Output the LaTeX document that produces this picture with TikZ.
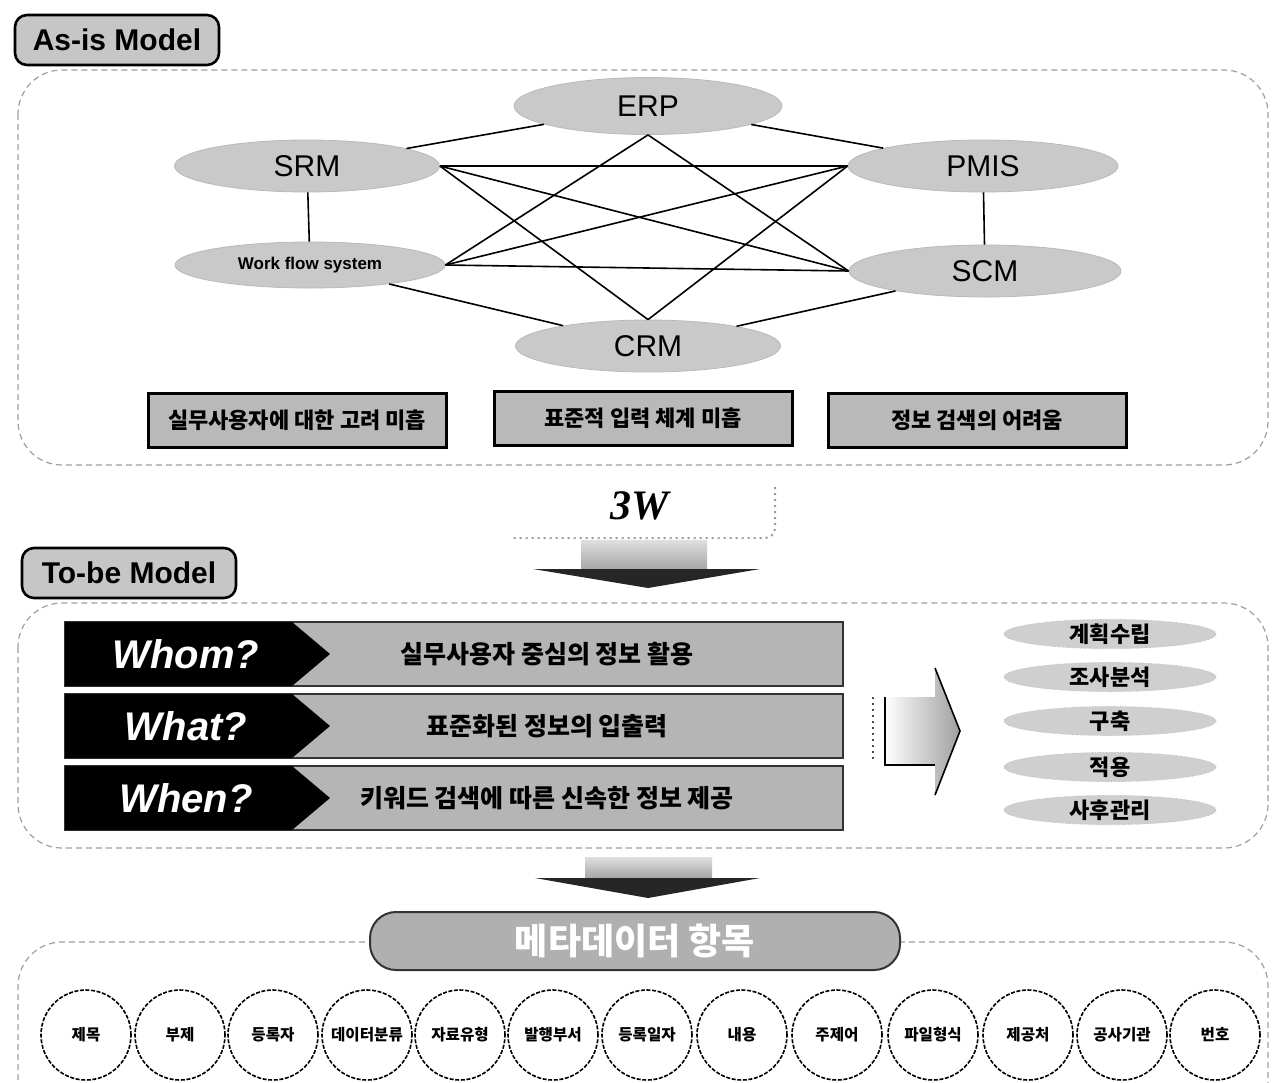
\documentclass[tikz,border=0pt]{standalone}
\usepackage{fontspec}
\setmainfont{Liberation Sans}
\newfontfamily\kr{Noto Sans CJK KR}
\newfontfamily\serifbi{Liberation Serif}
\usetikzlibrary{shapes.geometric}
\tikzset{
  region/.style={draw=gray!75, dash pattern=on 3pt off 2pt, line width=0.6pt, rounded corners=22pt},
  tagbox/.style={draw=black, line width=1.3pt, rounded corners=6pt, fill=gray!45,
     minimum width=102pt, minimum height=25pt, inner sep=0pt,
     font=\bfseries\fontsize{15}{15}\selectfont},
  sys/.style={ellipse, fill=gray!42, draw=gray!55, line width=0.4pt, inner sep=0pt,
     font=\fontsize{15}{15}\selectfont},
  link/.style={draw=black, line width=0.8pt},
  issue/.style={draw=black, line width=1.5pt, fill=gray!55, minimum width=149pt,
     minimum height=27pt, inner sep=0pt, font=\kr\bfseries\fontsize{11}{11}\selectfont},
  bar/.style={draw=black!80, line width=0.6pt, fill=gray!58, minimum width=389pt,
     minimum height=32pt, inner sep=0pt},
  qword/.style={text=white, font=\bfseries\itshape\fontsize{20}{20}\selectfont},
  bartext/.style={font=\kr\bfseries\fontsize{12.5}{12.5}\selectfont},
  phase/.style={ellipse, fill=gray!38, draw=gray!55, densely dotted, minimum width=106pt,
     minimum height=13.5pt, inner sep=0pt, font=\kr\bfseries\fontsize{11}{11}\selectfont},
  metaitem/.style={circle, draw=black, dash pattern=on 2pt off 0.8pt, line width=0.8pt,
     minimum size=45pt, inner sep=0pt, font=\kr\bfseries\fontsize{7.8}{7.8}\selectfont},
  banner/.style={draw=gray!40!black, line width=1pt, rounded corners=13pt, fill=gray!62,
     minimum width=265pt, minimum height=29pt, inner sep=0pt, text=white,
     font=\kr\bfseries\fontsize{18}{18}\selectfont},
}
\begin{document}
\begin{tikzpicture}[x=0.5pt,y=-0.5pt]
\useasboundingbox (0,0) rectangle (1273,1082);
\fill[white] (0,0) rectangle (1273,1082);

% ---------- As-is region ----------
\draw[region] (18,70) rectangle (1268,465);
\node[tagbox] (asis) at (117,40) {As-is Model};

\node[sys, minimum width=134pt, minimum height=28.5pt] (erp) at (648,106) {ERP};
\node[sys, minimum width=132.5pt, minimum height=26pt] (srm) at (307,166) {SRM};
\node[sys, minimum width=135pt, minimum height=26pt] (pmis) at (983,166) {PMIS};
\node[sys, minimum width=135pt, minimum height=23pt, font=\bfseries\fontsize{8.5}{8.5}\selectfont] (wf) at (310,265) {Work flow system};
\node[sys, minimum width=136pt, minimum height=26pt] (scm) at (985,271) {SCM};
\node[sys, minimum width=132.5pt, minimum height=26pt] (crm) at (648,346) {CRM};

\draw[link] (erp) -- (srm);
\draw[link] (erp) -- (pmis);
\draw[link] (srm) -- (wf);
\draw[link] (pmis) -- (scm);
\draw[link] (wf) -- (crm);
\draw[link] (scm) -- (crm);
\draw[link] (srm.east) -- (pmis.west);
\draw[link] (wf.east) -- (scm.west);
\draw[link] (srm.east) -- (scm.west);
\draw[link] (wf.east) -- (pmis.west);
\draw[link] (erp.south) -- (wf.east);
\draw[link] (erp.south) -- (scm.west);
\draw[link] (crm.north) -- (srm.east);
\draw[link] (crm.north) -- (pmis.west);

\node[issue] (i1) at (297,420) {실무사용자에 대한 고려 미흡};
\node[issue] (i2) at (643,418) {표준적 입력 체계 미흡};
\node[issue] (i3) at (977,420) {정보 검색의 어려움};

% ---------- 3W arrow ----------
\draw[gray!80, dotted, line width=1pt, rounded corners=5pt] (775,487) -- (775,538) -- (510,538);
\node[font=\serifbi\bfseries\itshape\fontsize{21}{21}\selectfont] (w3) at (640,506) {3W};
\shade[top color=gray!25, bottom color=gray!70] (581,540) rectangle (707,569);
\fill[gray!30!black] (533,569) -- (760,569) -- (648,588) -- cycle;

% ---------- To-be region ----------
\draw[region] (18,603) rectangle (1268,848);
\node[tagbox, minimum width=107pt] (tobe) at (129,573) {To-be Model};

\node[bar] (b1) at (454,654) {};
\node[bar] (b2) at (454,726) {};
\node[bar] (b3) at (454,798) {};
\foreach \yy in {654,726,798}{
  \fill[black] (65,\yy-32) -- (292,\yy-32) -- (330,\yy) -- (292,\yy+32) -- (65,\yy+32) -- cycle;
}
\node[qword] (q1) at (186,654) {Whom?};
\node[qword] (q2) at (186,726) {What?};
\node[qword] (q3) at (186,798) {When?};
\node[bartext] (t1) at (547,654) {실무사용자 중심의 정보 활용};
\node[bartext] (t2) at (547,726) {표준화된 정보의 입출력};
\node[bartext] (t3) at (547,798) {키워드 검색에 따른 신속한 정보 제공};

% right arrow
\draw[black!70, dotted, line width=1pt] (873,697) -- (873,762);
\shade[left color=white, right color=gray!75] (885,697) -- (935,697) -- (935,668) -- (960,731) -- (935,795) -- (935,765) -- (885,765) -- cycle;
\draw[black, line width=0.8pt] (885,697) -- (885,765) -- (935,765);
\draw[black, line width=0.8pt] (935,668) -- (960,731) -- (935,795);

\node[phase] (p1) at (1110,634) {계획수립};
\node[phase] (p2) at (1110,677) {조사분석};
\node[phase] (p3) at (1110,721) {구축};
\node[phase] (p4) at (1110,767) {적용};
\node[phase] (p5) at (1110,810) {사후관리};

% ---------- down arrow ----------
\shade[top color=gray!25, bottom color=gray!70] (585,857) rectangle (712,878);
\fill[gray!30!black] (535,878) -- (760,878) -- (648,898) -- cycle;

% ---------- Metadata region ----------
\draw[region] (18,1100) -- (18,942) -- (1268,942) -- (1268,1100);
\node[banner] (meta) at (635,941) {메타데이터 항목};

\foreach \nm/\xx/\txt in {m1/86/제목, m2/180/부제, m3/273/등록자, m4/367/데이터분류,
   m5/460/자료유형, m6/553/발행부서, m7/647/등록일자, m8/742/내용, m9/837/주제어,
   m10/933/파일형식, m11/1028/제공처, m12/1122/공사기관, m13/1215/번호}{
  \node[metaitem] (\nm) at (\xx,1035) {\txt};
}
\end{tikzpicture}
\end{document}
